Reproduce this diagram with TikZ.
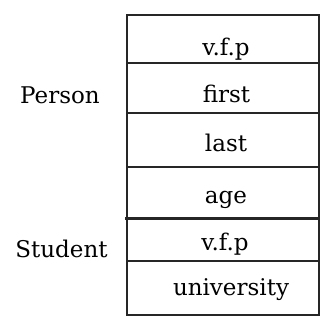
\documentclass[tikz,border=0pt]{standalone}
\usepackage{fontspec}
\setmainfont{DejaVu Serif}
\usepackage{tikz}

\begin{document}
\begin{tikzpicture}[x=1pt,y=-1pt]
\tikzstyle{every node}+=[inner sep=0pt]
\tikzstyle{cell}=[draw=black!85, line width=1.2pt, rectangle, minimum width=192pt]
\tikzstyle{txt}=[anchor=base, font=\fontsize{23}{27}\selectfont]
\useasboundingbox (0,0) rectangle (327,327);
% the object layout, one cell per field
\node [cell, minimum height=48pt] (vfpa) at (223,39) {};
\node [cell, minimum height=50pt] (first) at (223,88) {};
\node [cell, minimum height=54pt] (last) at (223,140) {};
\node [cell, minimum height=51pt] (age) at (223,192.5) {};
\node [cell, minimum height=43pt] (vfpb) at (223,239.5) {};
\node [cell, minimum height=54pt] (univ) at (223,288) {};
% field names
\node [txt] (vfpatext) at (226,55) {v.f.p};
\node [txt] (firsttext) at (226.5,102) {first};
\node [txt] (lasttext) at (226,151) {last};
\node [txt] (agetext) at (226,203) {age};
\node [txt] (vfpbtext) at (225,250) {v.f.p};
\node [txt] (univtext) at (231,295) {university};
% class names
\node [txt] (person) at (60,103) {Person};
\node [txt] (student) at (61.5,257) {Student};
% boundary between Person and Student parts
\draw [black!85, line width=2.6pt] ([xshift=-1pt]age.south west) -- (age.south east);
\end{tikzpicture}
\end{document}
